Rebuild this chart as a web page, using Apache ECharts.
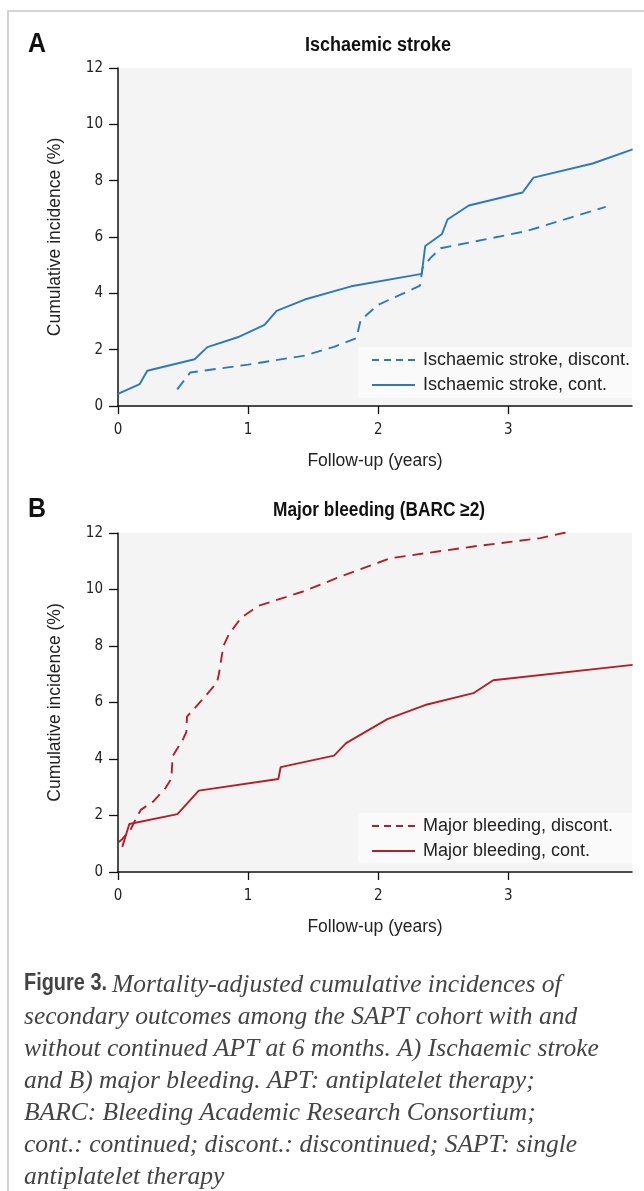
<!DOCTYPE html>
<html><head><meta charset="utf-8">
<script src="https://cdn.jsdelivr.net/npm/echarts@6/dist/echarts.min.js"></script>
<style>html,body{margin:0;padding:0;background:#fff}#c{width:644px;height:1191px}</style>
</head><body><div id="c"></div>
<script>
// ---- data ----
const xTicks = [0, 1, 2, 3];
const tA_cont = [0, 0.167, 0.225, 0.589, 0.687, 0.92, 1.126, 1.219, 1.435, 1.792, 2.334, 2.361, 2.49, 2.532, 2.696, 3.109, 3.193, 3.648, 3.955];
const vA_cont = [0.43, 0.78, 1.25, 1.66, 2.09, 2.44, 2.88, 3.38, 3.78, 4.25, 4.69, 5.68, 6.11, 6.62, 7.12, 7.58, 8.11, 8.61, 9.11];
const tA_dis = [0.455, 0.555, 1.0, 1.435, 1.66, 1.832, 1.864, 1.998, 2.321, 2.34, 2.40, 2.48, 3.14, 3.748];
const vA_dis = [0.59, 1.19, 1.47, 1.79, 2.1, 2.41, 3.04, 3.59, 4.27, 4.9, 5.25, 5.6, 6.21, 7.07];
const tB_cont = [0.033, 0.087, 0.457, 0.621, 1.232, 1.25, 1.66, 1.753, 2.07, 2.36, 2.731, 2.884, 3.955];
const vB_cont = [0.89, 1.70, 2.05, 2.88, 3.29, 3.71, 4.12, 4.56, 5.41, 5.91, 6.33, 6.79, 7.33];
const tB_dis = [0, 0.034, 0.1, 0.127, 0.175, 0.272, 0.365, 0.41, 0.42, 0.5, 0.525, 0.53, 0.56, 0.656, 0.76, 0.775, 0.81, 0.85, 0.946, 1.079, 1.422, 1.745, 2.096, 2.744, 3.246, 3.46];
const vB_dis = [1.04, 1.17, 1.53, 1.79, 2.2, 2.5, 2.97, 3.3, 4.1, 4.7, 4.95, 5.5, 5.65, 6.15, 6.7, 7.0, 8.0, 8.4, 9.0, 9.42, 9.93, 10.52, 11.11, 11.53, 11.82, 12.04];
const namesA = ['Ischaemic stroke, discont.', 'Ischaemic stroke, cont.'];
const namesB = ['Major bleeding, discont.', 'Major bleeding, cont.'];
const titleA = 'Ischaemic stroke';
const titleB = 'Major bleeding (BARC \u22652)';
const xName = 'Follow-up (years)';
const yName = 'Cumulative incidence (%)';
const figLabel = 'Figure 3.';
const captionLines = [
  'Mortality-adjusted cumulative incidences of',
  'secondary outcomes among the SAPT cohort with and',
  'without continued APT at 6 months. A) Ischaemic stroke',
  'and B) major bleeding. APT: antiplatelet therapy;',
  'BARC: Bleeding Academic Research Consortium;',
  'cont.: continued; discont.: discontinued; SAPT: single',
  'antiplatelet therapy'
];

const zip = (t, v) => t.map((x, i) => [x, v[i]]);
const BLUE = '#2c79c1', RED = '#b41f27';
const COND = '"DejaVu Sans Condensed","Liberation Sans",sans-serif';
const SANS = '"Liberation Sans",Arial,sans-serif';
const SERIF = '"Liberation Serif","DejaVu Serif",serif';

// measure helper to emulate a condensed bold face by horizontal scaling
const mctx = document.createElement('canvas').getContext('2d');
function condText(text, x, y, size, targetW, align, fill) {
  const font = 'bold ' + size + 'px ' + SANS;
  mctx.font = font;
  const w = mctx.measureText(text).width;
  return {type: 'text', x: x, y: y, scaleX: targetW / w, scaleY: 1,
    style: {text: text, font: font, fill: fill, align: align, verticalAlign: 'middle'}};
}

const grids = [
  {left: 118, top: 68, width: 514, height: 338},
  {left: 118, top: 533, width: 514, height: 339}
];
function xAx(i) {
  return {
    type: 'value', gridIndex: i, min: 0, max: 3.95, interval: 1,
    name: xName, nameLocation: 'middle', nameGap: 46,
    nameTextStyle: {fontFamily: SANS, fontSize: 17.5, color: '#222'},
    axisLine: {show: true, lineStyle: {color: '#111', width: 1.5}},
    axisTick: {show: true, length: 8, lineStyle: {color: '#111', width: 1.3}, customValues: xTicks},
    axisLabel: {fontFamily: COND, fontSize: 15, color: '#222', margin: 17, customValues: xTicks},
    splitLine: {show: false}
  };
}
function yAx(i) {
  return {
    type: 'value', gridIndex: i, min: 0, max: 12, interval: 2,
    name: yName, nameLocation: 'middle', nameGap: 54,
    nameTextStyle: {fontFamily: SANS, fontSize: 17.5, color: '#222'},
    axisLine: {show: true, lineStyle: {color: '#111', width: 1.5}},
    axisTick: {show: true, length: 9, lineStyle: {color: '#111', width: 1.3}},
    axisLabel: {fontFamily: COND, fontSize: 15, color: '#222', margin: 15},
    splitLine: {show: false}
  };
}
function legend(names, top) {
  return {
    orient: 'vertical', left: 371, top: top, padding: 0, itemGap: 7,
    itemWidth: 43, itemHeight: 14,
    itemStyle: {opacity: 0},
    data: [
      {name: names[0], lineStyle: {type: [7, 5]}},
      {name: names[1]}
    ],
    textStyle: {fontFamily: SANS, fontSize: 18, lineHeight: 18, color: '#222', padding: [0, 0, 0, 3]},
    selectedMode: false, z: 5
  };
}
function lineS(name, data, color, dashed, gi) {
  return {
    type: 'line', name: name, xAxisIndex: gi, yAxisIndex: gi, data: data,
    symbol: 'none', showSymbol: false, animation: false, clip: true,
    lineStyle: {color: color, width: 1.9, type: dashed ? [11, 7] : 'solid'},
    itemStyle: {color: color}
  };
}

const graphic = [
  {type: 'rect', shape: {x: 8, y: 11, width: 700, height: 1300}, style: {fill: 'none', stroke: '#c8c8c8', lineWidth: 1.6}, z: 0, silent: true},
  {type: 'rect', shape: {x: 118, y: 68, width: 514, height: 338}, style: {fill: '#f4f4f4'}, z: -1, silent: true},
  {type: 'rect', shape: {x: 118, y: 533, width: 514, height: 339}, style: {fill: '#f4f4f4'}, z: -1, silent: true},
  {type: 'rect', shape: {x: 358, y: 347, width: 274, height: 51}, style: {fill: '#fafafa'}, z: 1, silent: true},
  {type: 'rect', shape: {x: 358, y: 813, width: 274, height: 50}, style: {fill: '#fafafa'}, z: 1, silent: true},
  condText('A', 28, 45, 27, 18, 'left', '#111'),
  condText(titleA, 378, 45, 20, 146, 'center', '#111'),
  condText('B', 28, 510, 27, 18, 'left', '#111'),
  condText(titleB, 379, 510, 20, 212, 'center', '#111'),
  condText(figLabel, 24, 984, 23, 83, 'left', '#444')
];
captionLines.forEach((ln, i) => {
  graphic.push({type: 'text', x: i === 0 ? 112 : 24, y: 985 + i * 32, style: {
    text: ln, font: 'italic 25.5px ' + SERIF, fill: '#444', verticalAlign: 'middle'}});
});

const chart = echarts.init(document.getElementById('c'), null, {renderer: 'canvas'});
chart.setOption({
  animation: false,
  backgroundColor: '#fff',
  grid: grids,
  xAxis: [xAx(0), xAx(1)],
  yAxis: [yAx(0), yAx(1)],
  legend: [legend(namesA, 351), legend(namesB, 817)],
  series: [
    lineS(namesA[0], zip(tA_dis, vA_dis), BLUE, true, 0),
    lineS(namesA[1], zip(tA_cont, vA_cont), BLUE, false, 0),
    lineS(namesB[0], zip(tB_dis, vB_dis), RED, true, 1),
    lineS(namesB[1], zip(tB_cont, vB_cont), RED, false, 1)
  ],
  graphic: graphic
});
</script></body></html>
